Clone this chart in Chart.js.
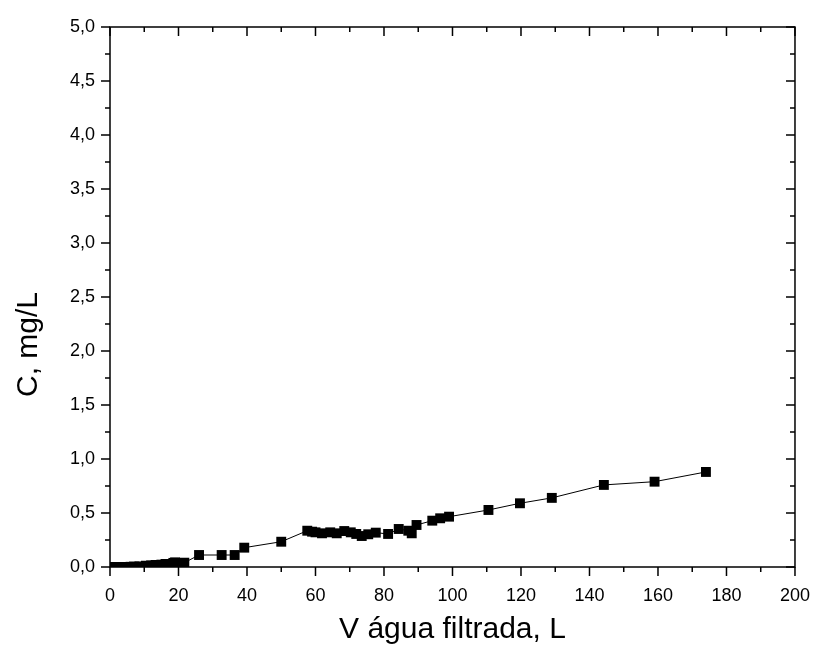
<!DOCTYPE html>
<html>
<head>
<meta charset="utf-8">
<script src="https://cdn.jsdelivr.net/npm/chart.js@4"></script>
<style>
  html, body { margin: 0; padding: 0; background: #fff; }
  #wrap { width: 828px; height: 648px; }
</style>
</head>
<body>
<div id="wrap"><canvas id="chart" width="828" height="648"></canvas></div>
<script>
// volume of filtered water (L)
const volume = [0, 1, 2, 3, 4, 5, 6, 7, 8.6, 10.5, 12, 13.3, 15, 16.2, 18.5, 19, 21.7,
  26, 32.6, 36.4, 39.2, 50, 57.6, 59, 60, 61.9, 64.3, 66.2, 68.4, 70.3, 71.9, 73.5,
  75.4, 77.6, 81.2, 84.3, 87.1, 88.1, 89.5, 94.1, 96.4, 99, 110.5, 119.7, 129, 144.2, 159, 174];
// concentration (mg/L)
const conc = [0, 0, 0, 0, 0, 0, 0.002, 0.004, 0.006, 0.012, 0.015, 0.019, 0.022, 0.028, 0.038, 0.043, 0.04,
  0.111, 0.111, 0.111, 0.179, 0.234, 0.336, 0.327, 0.321, 0.312, 0.321, 0.312, 0.333, 0.321, 0.306, 0.287,
  0.303, 0.318, 0.306, 0.352, 0.336, 0.312, 0.389, 0.429, 0.451, 0.466, 0.528, 0.59, 0.64, 0.76, 0.79, 0.88];

const xTitle = 'V água filtrada, L';
const yTitle = 'C, mg/L';

const points = volume.map((v, i) => ({ x: v, y: conc[i] }));

const fmt = v => v.toFixed(1).replace('.', ',');

// frame + tick marks like the original plot (outside on left/bottom, inside on top/right)
const framePlugin = {
  id: 'frame',
  afterDraw(chart) {
    const { ctx, chartArea: a, scales: { x, y } } = chart;
    ctx.save();
    ctx.strokeStyle = '#000';
    ctx.lineWidth = 1.5;
    ctx.strokeRect(a.left, a.top, a.right - a.left, a.bottom - a.top);
    ctx.beginPath();
    for (let v = 0; v <= 200; v += 10) {
      const px = x.getPixelForValue(v);
      const len = v % 20 === 0 ? 9 : 5;
      ctx.moveTo(px, a.bottom); ctx.lineTo(px, a.bottom + len);
      ctx.moveTo(px, a.top); ctx.lineTo(px, a.top + len);
    }
    for (let k = 0; k <= 20; k++) {
      const v = k * 0.25;
      const py = y.getPixelForValue(v);
      const len = k % 2 === 0 ? 9 : 5;
      ctx.moveTo(a.left, py); ctx.lineTo(a.left - len, py);
      ctx.moveTo(a.right, py); ctx.lineTo(a.right - len, py);
    }
    ctx.stroke();

    // y title sits a bit below the middle in the original
    ctx.fillStyle = '#000';
    ctx.font = '30px "Liberation Sans"';
    ctx.textAlign = 'center';
    ctx.textBaseline = 'alphabetic';
    ctx.translate(37, y.getPixelForValue(2.06));
    ctx.rotate(-Math.PI / 2);
    ctx.fillText(yTitle, 0, 0);
    ctx.restore();
  }
};

new Chart(document.getElementById('chart'), {
  type: 'line',
  data: {
    datasets: [{
      data: points,
      borderColor: '#000',
      backgroundColor: '#000',
      borderWidth: 1,
      pointStyle: 'rect',
      pointRadius: 7,
      pointBorderWidth: 0,
      tension: 0
    }]
  },
  options: {
    responsive: false,
    animation: false,
    layout: { padding: { top: 27, right: 18, left: 0, bottom: 0 } },
    plugins: { legend: { display: false }, tooltip: { enabled: false } },
    scales: {
      x: {
        type: 'linear',
        min: 0, max: 200,
        grid: { display: false, drawTicks: false },
        border: { display: false },
        ticks: {
          stepSize: 20, color: '#000', padding: 18, maxRotation: 0,
          font: { family: 'Liberation Sans', size: 18 }
        },
        title: {
          display: true, text: xTitle, color: '#000',
          font: { family: 'Liberation Sans', size: 30 }, padding: { top: 0, bottom: 0 }
        },
        afterFit(s) { s.height = 81; }
      },
      y: {
        type: 'linear',
        min: 0, max: 5,
        grid: { display: false, drawTicks: false },
        border: { display: false },
        ticks: {
          stepSize: 0.5, color: '#000', padding: 15,
          font: { family: 'Liberation Sans', size: 18 },
          callback: v => fmt(v)
        },
        title: { display: false },
        afterFit(s) { s.width = 110; }
      }
    }
  },
  plugins: [framePlugin]
});
</script>
</body>
</html>
